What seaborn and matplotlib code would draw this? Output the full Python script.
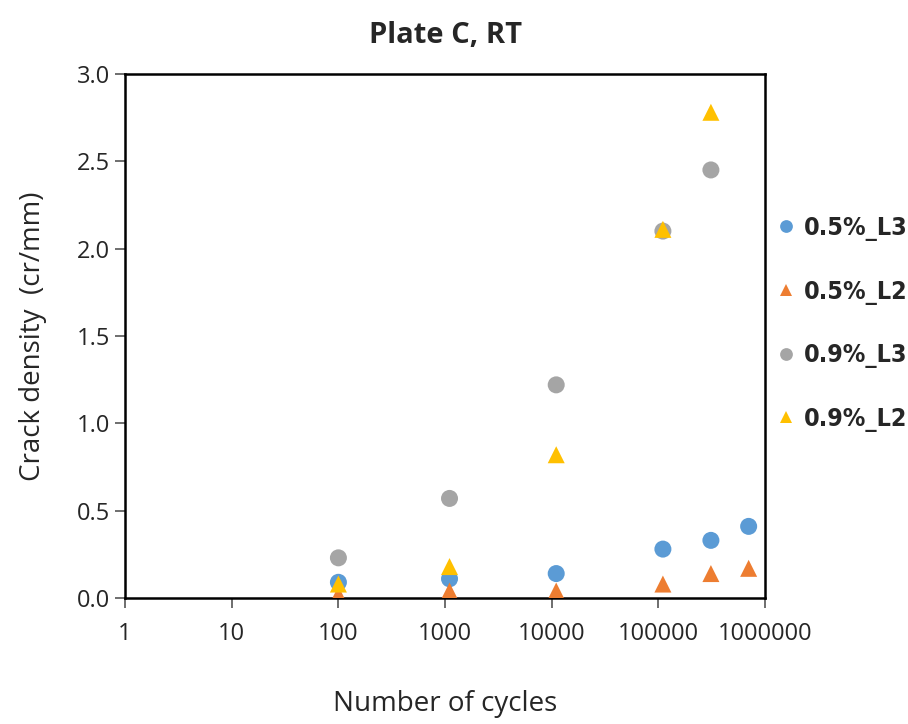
import pandas as pd
import matplotlib.pyplot as plt
import seaborn as sns

# data
series = ['0.5%_L3', '0.5%_L2', '0.9%_L3', '0.9%_L2']
cycles_05_l3 = [100, 1100, 11000, 110000, 310000, 700000]
crack_05_l3 = [0.09, 0.11, 0.14, 0.28, 0.33, 0.41]
cycles_05_l2 = [100, 1100, 11000, 110000, 310000, 700000]
crack_05_l2 = [0.02, 0.04, 0.04, 0.08, 0.14, 0.17]
cycles_09_l3 = [100, 1100, 11000, 110000, 310000]
crack_09_l3 = [0.23, 0.57, 1.22, 2.10, 2.45]
cycles_09_l2 = [100, 1100, 11000, 110000, 310000]
crack_09_l2 = [0.08, 0.18, 0.82, 2.11, 2.78]

x_ticks = [1, 10, 100, 1000, 10000, 100000, 1000000]
x_tick_labels = ['1', '10', '100', '1000', '10000', '100000', '1000000']
y_ticks = [0.0, 0.5, 1.0, 1.5, 2.0, 2.5, 3.0]

colors = ['#5B9BD5', '#ED7D31', '#A5A5A5', '#FFC000']
markers = ['o', '^', 'o', '^']


def build_frame():
    """
    Put the four series in one long table.
    """
    parts = []
    for name, xs, ys in zip(series,
                            [cycles_05_l3, cycles_05_l2, cycles_09_l3, cycles_09_l2],
                            [crack_05_l3, crack_05_l2, crack_09_l3, crack_09_l2]):
        parts.append(pd.DataFrame({'cycles': xs, 'crack': ys, 'series': name}))
    return pd.concat(parts, ignore_index=True)


data = build_frame()

sns.set_style('white')
plt.rcParams['font.family'] = ['Open Sans', 'DejaVu Sans']

fig = plt.figure(figsize=(9.08, 7.24), dpi=100)
ax = fig.add_axes([0.1377, 0.174, 0.705, 0.724])

sns.scatterplot(data=data, x='cycles', y='crack', hue='series', style='series',
                hue_order=series, style_order=series,
                palette=dict(zip(series, colors)),
                markers=dict(zip(series, markers)),
                s=150, linewidth=0, ax=ax, zorder=3)

ax.set_xscale('log')
ax.set_xlim(1, 1000000)
ax.set_ylim(0, 3.0)
ax.xaxis.set_major_locator(plt.FixedLocator(x_ticks))
ax.xaxis.set_minor_locator(plt.NullLocator())
ax.set_xticklabels(x_tick_labels)
ax.set_yticks(y_ticks)
ax.set_yticklabels([f'{v:.1f}' for v in y_ticks])
ax.tick_params(axis='both', direction='out', length=7, width=1.2,
               color='#555555', labelsize=17, bottom=True, left=True)
ax.tick_params(axis='x', pad=10)

for spine in ax.spines.values():
    spine.set_color('black')
    spine.set_linewidth(1.8)

ax.set_xlabel('Number of cycles', fontsize=20, labelpad=32)
ax.set_ylabel('Crack density  (cr/mm)', fontsize=20, labelpad=22)
ax.set_title('Plate C, RT', fontsize=21, fontweight='bold', pad=22)

leg = ax.legend(loc='center left', bbox_to_anchor=(1.0, 0.523), frameon=False,
                prop={'family': 'DejaVu Sans', 'stretch': 'condensed',
                      'size': 18, 'weight': 'bold'},
                handlelength=0.9, handletextpad=0.25, labelspacing=1.55,
                markerscale=0.75, borderaxespad=0.1, borderpad=0.3)

fig.savefig('out.png', dpi=100)
